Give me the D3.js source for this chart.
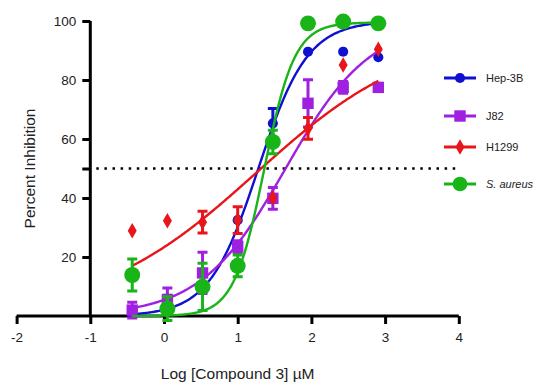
<!DOCTYPE html>
<html>
<head>
<meta charset="utf-8">
<script src="https://cdn.jsdelivr.net/npm/d3@7"></script>
<style>
  html, body { margin: 0; padding: 0; background: #fff; }
  svg { display: block; font-family: "Liberation Sans", Arial, Helvetica, sans-serif; }
</style>
</head>
<body>
<svg id="chart" width="541" height="383"></svg>
<script>
// ---- Data ----
const logConc = [-0.431, 0.046, 0.523, 1.0, 1.477, 1.954, 2.431, 2.908];
const seriesNames = ["Hep-3B", "J82", "H1299", "S. aureus"];
const hep3bMean = [1, 4, 10, 32.5, 65.3, 89.6, 89.6, 87.7];
const hep3bErr  = [0, 3, 0, 0, 5, 0, 0, 0];
const j82Mean   = [2, 5.5, 14.6, 23.5, 39.9, 72.1, 77.5, 77.5];
const j82Err    = [2.7, 4, 7, 2, 3.7, 8, 2, 0];
const h1299Mean = [28.9, 32.3, 31.8, 32.5, 40, 63.6, 85.1, 90.4];
const h1299Err  = [0, 0, 3.7, 4.5, 0, 3.7, 0, 0];
const saurMean  = [13.9, 2.5, 9.9, 17, 59, 99.2, 99.8, 99.2];
const saurErr   = [5.4, 4, 8, 3.7, 4, 0, 0, 0];
// fitted curve parameters: bottom, top, logEC50, hill slope
const hep3bFit = [0, 100, 1.28, 1.3];
const j82Fit   = [0, 100, 1.65, 0.75];
const h1299Fit = [0, 97, 1.25, 0.4];
const saurFit  = [0, 99.5, 1.36, 2.1];
const xTicks = [-2, -1, 0, 1, 2, 3, 4];
const yTicks = [20, 40, 60, 80, 100];

const colors = ["#1010d0", "#a020e0", "#e8151b", "#18b418"];
const symbols = [d3.symbolCircle, d3.symbolSquare, d3.symbolDiamond, d3.symbolCircle];
const symSizes = [80, 130, 70, 200];

const series = [
  {name: seriesNames[0], mean: hep3bMean, err: hep3bErr, fit: hep3bFit},
  {name: seriesNames[1], mean: j82Mean, err: j82Err, fit: j82Fit},
  {name: seriesNames[2], mean: h1299Mean, err: h1299Err, fit: h1299Fit},
  {name: seriesNames[3], mean: saurMean, err: saurErr, fit: saurFit}
];

const svg = d3.select("#chart");
const x = d3.scaleLinear().domain([-2, 4]).range([16.6, 458.8]);
const y = d3.scaleLinear().domain([0, 100]).range([316, 21]);

// dotted 50% line
svg.append("line")
  .attr("x1", x(-1) + 6).attr("x2", x(4))
  .attr("y1", y(50)).attr("y2", y(50))
  .attr("stroke", "#000").attr("stroke-width", 2.5)
  .attr("stroke-dasharray", "2.5,5.6");

// axes
const xAxis = svg.append("g").attr("transform", `translate(0,${y(0)})`)
  .call(d3.axisBottom(x).tickValues(xTicks).tickSize(8).tickPadding(8).tickFormat(d3.format("d")));
const yAxis = svg.append("g").attr("transform", `translate(${x(-1)},0)`)
  .call(d3.axisLeft(y).tickValues(yTicks.concat([50])).tickSize(8).tickPadding(6)
    .tickFormat(d => d === 50 ? "" : d));
[xAxis, yAxis].forEach(g => {
  g.select(".domain").attr("stroke", "#000").attr("stroke-width", 3);
  g.selectAll(".tick line").attr("stroke", "#000").attr("stroke-width", 3);
  g.selectAll(".tick text").attr("fill", "#222").style("font-size", "13.5px")
    .style("font-family", "'Liberation Sans', Arial, sans-serif");
});
xAxis.select(".domain").attr("d", `M${x(-2)},0H${x(4)}`);
yAxis.select(".domain").attr("d", `M0,${y(0)}V${y(100)}`);
xAxis.selectAll(".tick text").text(d => String(d).replace("−", "-"));

// axis titles
svg.append("text").attr("x", x(1)).attr("y", 379).attr("text-anchor", "middle")
  .style("font-size", "15.5px").attr("fill", "#222").text("Log [Compound 3] µM");
svg.append("text").attr("transform", `translate(35,${y(50)}) rotate(-90)`)
  .attr("text-anchor", "middle").style("font-size", "15.5px").attr("fill", "#222")
  .text("Percent Inhibition");

// curves
function hill(p, lx) { return p[0] + (p[1] - p[0]) / (1 + Math.pow(10, p[3] * (p[2] - lx))); }
const line = d3.line().x(d => x(d[0])).y(d => y(d[1])).curve(d3.curveLinear);
const xMin = d3.min(logConc), xMax = d3.max(logConc);

series.forEach((s, i) => {
  const g = svg.append("g");
  const pts = d3.range(0, 201).map(k => {
    const lx = xMin + (xMax - xMin) * k / 200;
    return [lx, hill(s.fit, lx)];
  });
  g.append("path").attr("d", line(pts)).attr("fill", "none")
    .attr("stroke", colors[i]).attr("stroke-width", 2.4);
  // error bars
  logConc.forEach((lx, j) => {
    const e = s.err[j];
    if (!e) return;
    const m = s.mean[j];
    const cx = x(lx);
    g.append("path")
      .attr("d", `M${cx},${y(m + e)}V${y(m - e)}M${cx - 5},${y(m + e)}H${cx + 5}M${cx - 5},${y(m - e)}H${cx + 5}`)
      .attr("stroke", colors[i]).attr("stroke-width", 3).attr("fill", "none");
  });
  // markers
  g.selectAll("path.pt").data(logConc).join("path").attr("class", "pt")
    .attr("transform", (lx, j) => `translate(${x(lx)},${y(s.mean[j])})`)
    .attr("d", d3.symbol().type(symbols[i]).size(symSizes[i]))
    .attr("fill", colors[i]);
});

// legend
const legY = [78, 116, 147, 184];
series.forEach((s, i) => {
  const g = svg.append("g").attr("transform", `translate(0,${legY[i]})`);
  g.append("line").attr("x1", 444).attr("x2", 476).attr("stroke", colors[i]).attr("stroke-width", 3);
  g.append("path").attr("transform", "translate(460,0)")
    .attr("d", d3.symbol().type(symbols[i]).size(i === 3 ? 170 : symSizes[i]))
    .attr("fill", colors[i]);
  const t = g.append("text").attr("x", 486).attr("y", 4).style("font-size", "11px").attr("fill", "#222");
  if (i === 3) t.style("font-style", "italic");
  t.text(s.name);
});
</script>
</body>
</html>
